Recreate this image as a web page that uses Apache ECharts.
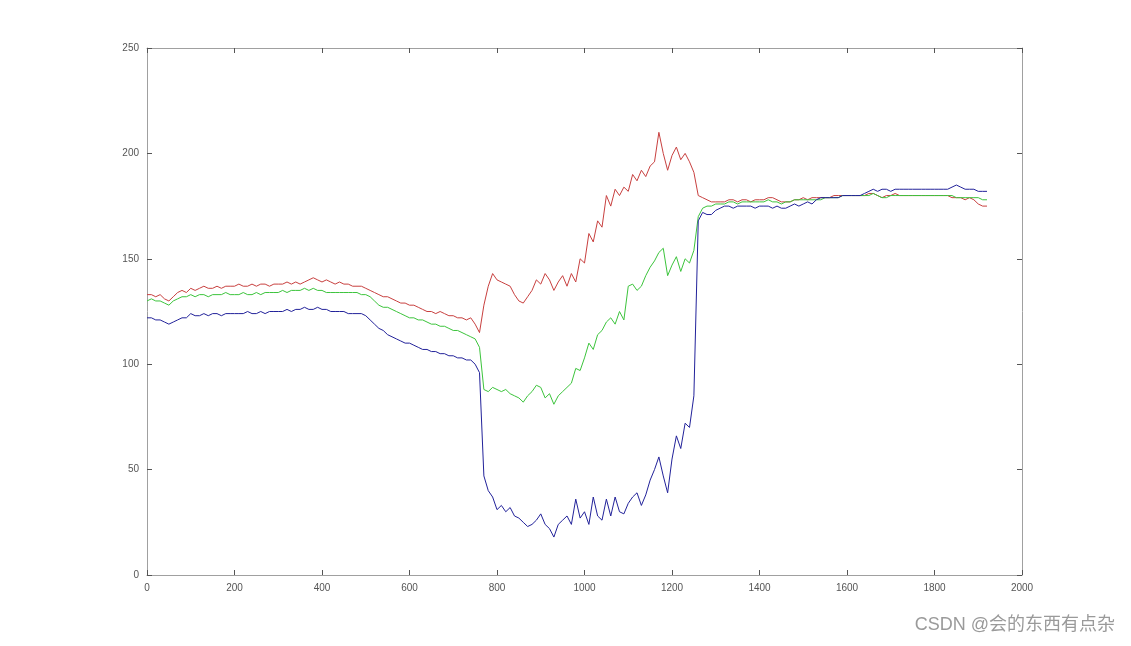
<!DOCTYPE html>
<html>
<head>
<meta charset="utf-8">
<script src="https://cdn.jsdelivr.net/npm/echarts@6/dist/echarts.min.js"></script>
<style>
html,body{margin:0;padding:0;background:#fff;}
#chart{width:1131px;height:646px;}
</style>
</head>
<body>
<div id="chart"></div>
<script>
// x positions (sample index * 10)
const xs = [];
for (let i = 0; i <= 192; i++) xs.push(i * 10);

const redValues = [
133,133,132,133,131,130,132,134,135,134,
136,135,136,137,136,136,137,136,137,137,
137,138,137,137,138,137,138,138,137,138,
138,138,139,138,139,138,139,140,141,140,
139,140,139,138,139,138,138,137,137,137,
136,135,134,133,132,132,131,130,129,129,
128,128,127,126,125,125,124,125,124,123,
123,122,122,121,122,119,115,128,137,143,
140,139,138,137,133,130,129,132,135,140,
138,143,140,135,139,142,137,143,139,150,
148,162,158,168,165,180,175,183,180,184,
182,190,187,192,189,194,196,210,200,192,
199,203,197,200,196,191,180,179,178,177,
177,177,177,178,178,177,178,178,177,178,
178,178,179,179,178,177,177,177,178,178,
179,178,179,179,179,179,179,180,180,180,
180,180,180,180,180,181,181,180,179,180,
180,181,180,180,180,180,180,180,180,180,
180,180,180,180,179,179,179,178,179,178,
176,175,175
];

const greenValues = [
130,131,130,130,129,128,130,131,132,132,
133,132,133,133,132,133,133,133,134,133,
133,133,134,133,133,134,133,134,134,134,
134,135,134,135,135,135,136,135,136,135,
135,134,134,134,134,134,134,134,134,133,
133,132,130,128,127,127,126,125,124,123,
122,122,121,121,120,119,119,118,118,117,
116,116,115,114,113,112,108,88,87,89,
88,87,88,86,85,84,82,85,87,90,
89,84,86,81,85,87,89,91,98,97,
103,110,107,114,116,120,122,119,125,121,
137,138,135,137,142,146,149,153,155,142,
147,151,144,150,148,154,170,174,175,175,
176,176,176,177,177,176,177,177,177,177,
177,177,178,177,177,176,177,177,178,178,
178,178,178,178,178,179,179,179,179,180,
180,180,180,180,180,180,181,180,179,179,
180,180,180,180,180,180,180,180,180,180,
180,180,180,180,180,179,179,179,179,179,
179,178,178
];

const blueValues = [
122,122,121,121,120,119,120,121,122,122,
124,123,123,124,123,124,124,123,124,124,
124,124,124,125,124,124,125,124,125,125,
125,125,126,125,126,126,127,126,126,127,
126,126,125,125,125,125,124,124,124,124,
123,121,119,117,116,114,113,112,111,110,
110,109,108,107,107,106,106,105,105,104,
104,103,103,102,102,100,96,47,40,37,
31,33,30,32,28,27,25,23,24,26,
29,24,22,18,24,26,28,24,36,27,
30,24,37,28,26,36,28,37,30,29,
34,37,39,33,38,45,50,56,47,39,
55,66,60,72,70,85,168,172,171,171,
173,174,175,175,174,175,175,175,175,174,
175,175,175,174,175,174,174,175,176,175,
176,177,176,178,179,179,179,179,179,180,
180,180,180,180,181,182,183,182,183,183,
182,183,183,183,183,183,183,183,183,183,
183,183,183,183,184,185,184,183,183,183,
182,182,182
];

const xTicks = [0,200,400,600,800,1000,1200,1400,1600,1800,2000];
const yTicks = [0,50,100,150,200,250];

function pairs(vals){ return xs.map((x,i)=>[x, vals[i]]); }

const chart = echarts.init(document.getElementById('chart'), null, {renderer:'canvas'});
const axisLineStyle = {lineStyle:{color:'#a0a0a0', width:1}};
const labelStyle = {color:'#555', fontSize:10, fontFamily:'Liberation Sans, Arial, sans-serif', formatter:(v)=>String(v)};
const tickStyle = {show:true, inside:true, length:5, lineStyle:{color:'#555', width:1}};

chart.setOption({
  animation:false,
  backgroundColor:'#ffffff',
  grid:{left:147, right:109, top:48, bottom:71, containLabel:false},
  xAxis:[
    {type:'value', min:xTicks[0], max:xTicks[xTicks.length-1], interval:200, position:'bottom',
     axisLine:{show:true, onZero:false, ...axisLineStyle}, axisTick:tickStyle,
     axisLabel:{...labelStyle, margin:8}, splitLine:{show:false}},
    {type:'value', min:xTicks[0], max:xTicks[xTicks.length-1], interval:200, position:'top',
     axisLine:{show:true, onZero:false, ...axisLineStyle}, axisTick:tickStyle,
     axisLabel:{show:false}, splitLine:{show:false}}
  ],
  yAxis:[
    {type:'value', min:yTicks[0], max:yTicks[yTicks.length-1], interval:50, position:'left',
     axisLine:{show:true, onZero:false, ...axisLineStyle}, axisTick:tickStyle,
     axisLabel:{...labelStyle, margin:8}, splitLine:{show:false}},
    {type:'value', min:yTicks[0], max:yTicks[yTicks.length-1], interval:50, position:'right',
     axisLine:{show:true, onZero:false, ...axisLineStyle}, axisTick:tickStyle,
     axisLabel:{show:false}, splitLine:{show:false}}
  ],
  series:[
    {name:'R', type:'line', data:pairs(redValues), showSymbol:false, symbol:'none',
     lineStyle:{color:'#c8403f', width:1}, itemStyle:{color:'#c8403f'}},
    {name:'G', type:'line', data:pairs(greenValues), showSymbol:false, symbol:'none',
     lineStyle:{color:'#3cc43c', width:1}, itemStyle:{color:'#3cc43c'}},
    {name:'B', type:'line', data:pairs(blueValues), showSymbol:false, symbol:'none',
     lineStyle:{color:'#22229a', width:1}, itemStyle:{color:'#22229a'}}
  ],
  graphic:[
    {type:'text', right:16, top:616,
     style:{text:'CSDN @会的东西有点杂', fill:'#9a9a9a', fontSize:18,
            fontFamily:'Liberation Sans, Noto Sans CJK SC, sans-serif'}}
  ]
});
</script>
</body>
</html>
